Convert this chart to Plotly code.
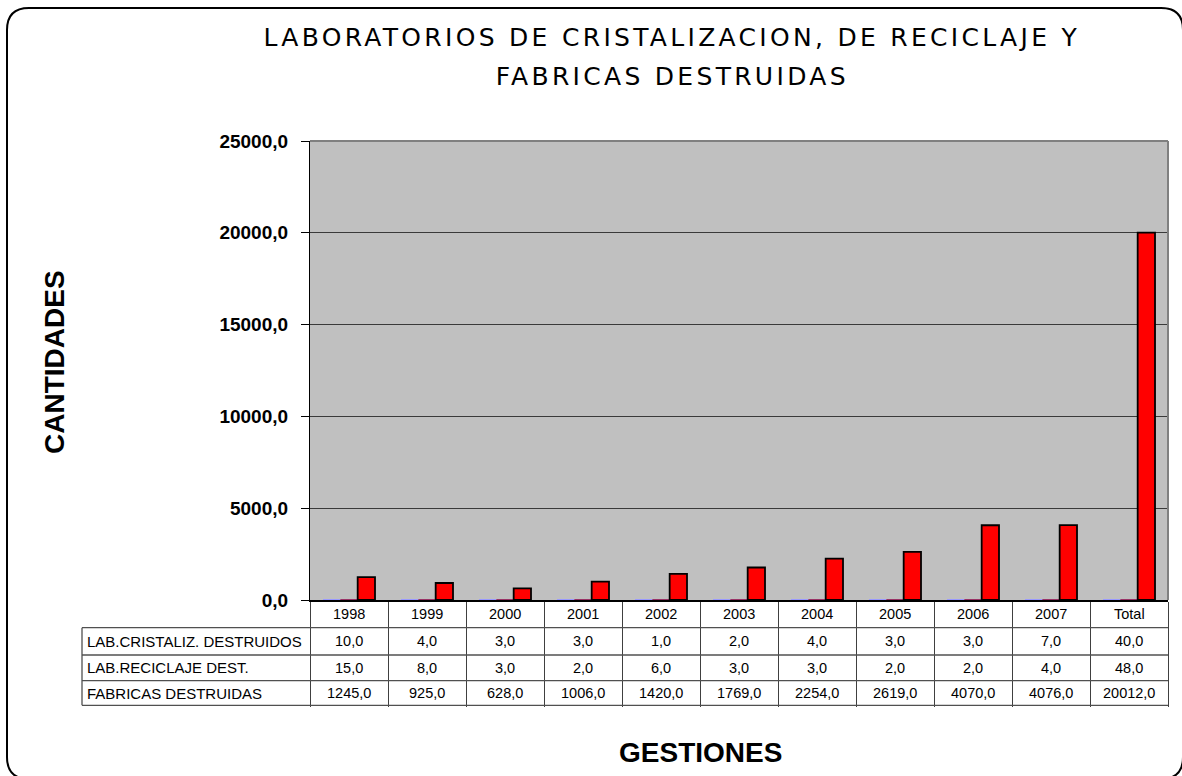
import plotly.graph_objects as go

# ---------------- data ----------------
categories = ['1998', '1999', '2000', '2001', '2002', '2003', '2004', '2005', '2006', '2007', 'Total']
lab_cristaliz = [10.0, 4.0, 3.0, 3.0, 1.0, 2.0, 4.0, 3.0, 3.0, 7.0, 40.0]
lab_reciclaje = [15.0, 8.0, 3.0, 2.0, 6.0, 3.0, 3.0, 2.0, 2.0, 4.0, 48.0]
fabricas = [1245.0, 925.0, 628.0, 1006.0, 1420.0, 1769.0, 2254.0, 2619.0, 4070.0, 4076.0, 20012.0]
series_names = ['LAB.CRISTALIZ. DESTRUIDOS', 'LAB.RECICLAJE DEST.', 'FABRICAS DESTRUIDAS']
series_values = [lab_cristaliz, lab_reciclaje, fabricas]
y_ticks = [0, 5000, 10000, 15000, 20000, 25000]
title_lines = ['LABORATORIOS DE CRISTALIZACION, DE RECICLAJE Y', 'FABRICAS DESTRUIDAS']

# ---------------- styles / geometry ----------------
W, H = 1182, 776
L, R, T, B = 310, 1168, 141, 600
series_colors = ['#9999FF', '#993366', '#FF0000']
series_lines = [0, 0, 1.8]
row_edges = [600, 627.7, 655, 680.7, 705.3]
label_left = 82


def px(X):
    return (X - L) / (R - L)


def py(Y):
    return (B - Y) / (B - T)


def fmt(v):
    return f"{v:.1f}".replace('.', ',')


fig = go.Figure()
for name, vals, col, lw in zip(series_names, series_values, series_colors, series_lines):
    fig.add_trace(go.Bar(x=categories, y=vals, name=name, showlegend=False,
                         marker=dict(color=col, line=dict(color='black', width=lw))))

annotations = []
# title
for i, (line, Y) in enumerate(zip(title_lines, [37, 77])):
    annotations.append(dict(text=line, xref='paper', yref='paper', x=px(672), y=py(Y),
                            xanchor='center', yanchor='middle', showarrow=False,
                            font=dict(family='DejaVu Sans', size=25, color='black')))
# axis titles
annotations.append(dict(text='<b>CANTIDADES</b>', xref='paper', yref='paper', x=px(54), y=py(362),
                        textangle=-90, xanchor='center', yanchor='middle', showarrow=False,
                        font=dict(family='Liberation Sans', size=28, color='black')))
annotations.append(dict(text='<b>GESTIONES</b>', xref='paper', yref='paper', x=px(700), y=py(752),
                        xanchor='center', yanchor='middle', showarrow=False,
                        font=dict(family='Liberation Sans', size=28, color='black')))
# data table (x positions are category indices on the category axis)
tfont = dict(family='Liberation Sans', size=14.5, color='black')
row_centers = [(row_edges[k] + row_edges[k + 1]) / 2 for k in range(len(row_edges) - 1)]
for ci, c in enumerate(categories):
    annotations.append(dict(text=c, xref='x', yref='paper', x=ci, y=py(row_centers[0]),
                            xanchor='center', yanchor='middle', showarrow=False, font=tfont))
for r, (name, vals) in enumerate(zip(series_names, series_values)):
    yc = py(row_centers[r + 1])
    annotations.append(dict(text=name, xref='paper', yref='paper', x=px(label_left + 3), y=yc,
                            xanchor='left', yanchor='middle', showarrow=False,
                            font=dict(family='Liberation Sans', size=15, color='black')))
    for ci, v in enumerate(vals):
        annotations.append(dict(text=fmt(v), xref='x', yref='paper', x=ci, y=yc,
                                xanchor='center', yanchor='middle', showarrow=False, font=tfont))

shapes = []
# plot area border (top / right) in grey
shapes.append(dict(type='line', xref='paper', yref='paper', x0=0, x1=1, y0=1, y1=1,
                   line=dict(color='#808080', width=2)))
shapes.append(dict(type='line', xref='paper', yref='paper', x0=1, x1=1, y0=0, y1=1,
                   line=dict(color='#808080', width=2)))
# table horizontal lines
for Y in row_edges[1:]:
    shapes.append(dict(type='line', xref='paper', yref='paper', x0=px(label_left), x1=1,
                       y0=py(Y), y1=py(Y), line=dict(color='#505050', width=1.3)))
shapes.append(dict(type='line', xref='paper', yref='paper', x0=px(label_left), x1=px(label_left),
                   y0=py(row_edges[1]), y1=py(row_edges[-1]), line=dict(color='#505050', width=1.3)))
# rounded outer frame
x0, x1, y0, y1, rr = 7, 1183, 8, 779, 22
pts = [
    f"M {px(x0 + rr)},{py(y0)}",
    f"L {px(x1 - rr)},{py(y0)}",
    f"Q {px(x1)},{py(y0)} {px(x1)},{py(y0 + rr)}",
    f"L {px(x1)},{py(y1 - rr)}",
    f"Q {px(x1)},{py(y1)} {px(x1 - rr)},{py(y1)}",
    f"L {px(x0 + rr)},{py(y1)}",
    f"Q {px(x0)},{py(y1)} {px(x0)},{py(y1 - rr)}",
    f"L {px(x0)},{py(y0 + rr)}",
    f"Q {px(x0)},{py(y0)} {px(x0 + rr)},{py(y0)} Z",
]
shapes.append(dict(type='path', xref='paper', yref='paper', path=' '.join(pts),
                   line=dict(color='black', width=2)))

fig.update_layout(
    width=W, height=H,
    margin=dict(l=L, r=W - R, t=T, b=H - B),
    paper_bgcolor='white', plot_bgcolor='#C0C0C0',
    barmode='group', bargap=0.333, bargroupgap=0,
    separators=',.',
    annotations=annotations, shapes=shapes,
    xaxis=dict(type='category', range=[-0.5, len(categories) - 0.5], showgrid=False,
               showline=True, linecolor='black', linewidth=1.5,
               ticks='outside', tickson='boundaries', ticklen=row_edges[-1] - row_edges[0],
               tickcolor='#404040', tickwidth=1.3, showticklabels=False),
    yaxis=dict(range=[0, 25000], tickvals=y_ticks, tickformat='.1f',
               showgrid=True, gridcolor='#3a3a3a', gridwidth=1, zeroline=False,
               showline=True, linecolor='black', linewidth=1.2,
               ticks='outside', ticklen=8, tickcolor='black', tickwidth=1,
               ticklabelstandoff=9,
               tickfont=dict(family='Liberation Sans', size=19, color='black', weight='bold')),
)

post = """
document.body.style.margin='0';
document.body.style.overflow='hidden';
['0','1'].forEach(function(i){
  var g=document.querySelector('g.annotation[data-index="'+i+'"] text');
  if(!g) return;
  var b1=g.getBBox();
  g.style.letterSpacing='3.3px';
  var b2=g.getBBox();
  var dx=(b1.x+b1.width/2)-(b2.x+b2.width/2);
  var x=parseFloat(g.getAttribute('x')||'0');
  g.setAttribute('x', x+dx);
});
"""
fig.write_html("out.html", post_script=post, config={'displayModeBar': False})
